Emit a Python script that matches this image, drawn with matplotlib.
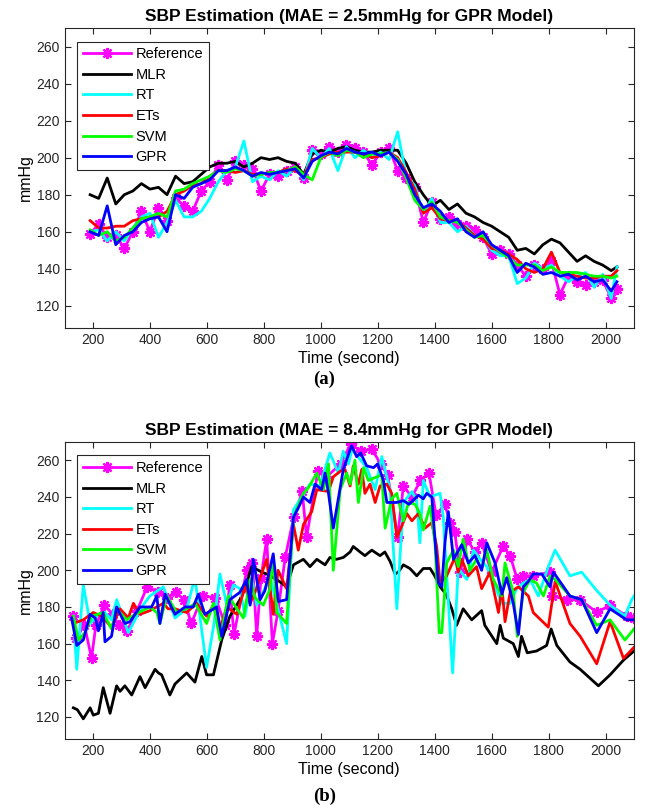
import matplotlib.pyplot as plt

plt.rcParams['font.family'] = ['Liberation Sans', 'DejaVu Sans']

## panel (a) - shared time grid
t_a = [190, 220, 250, 280, 310, 340, 370, 400, 430, 460, 490, 520, 550, 580, 610, 640,
       670, 700, 730, 760, 790, 820, 850, 880, 910, 940, 970, 1000, 1030, 1060, 1090,
       1120, 1150, 1180, 1210, 1240, 1270, 1300, 1330, 1360, 1390, 1420, 1450, 1480,
       1510, 1540, 1570, 1600, 1630, 1660, 1690, 1720, 1750, 1780, 1810, 1840, 1870,
       1900, 1930, 1960, 1990, 2020, 2040]
ref_a = [159, 164, 157, 158, 151, 160, 171, 160, 173, 166, 178, 174, 171, 182, 187, 196,
         188, 198, 196, 194, 182, 191, 190, 193, 195, 189, 204, 202, 206, 203, 207,
         205, 203, 196, 203, 205, 193, 189, 184, 165, 176, 167, 168, 164,
         163, 161, 157, 148, 150, 148, 142, 136, 142, 140, 144, 126, 136,
         133, 131, 133, 134, 124, 129]
mlr_a = [180, 178, 189, 175, 180, 182, 186, 183, 184, 180, 190, 186, 187, 191, 195, 197,
         197, 198, 195, 197, 200, 199, 200, 198, 197, 191, 202, 204, 203, 205, 206,
         204, 203, 203, 204, 204, 204, 197, 187, 180, 174, 177, 172, 175,
         170, 168, 165, 163, 160, 157, 150, 151, 148, 153, 156, 154, 149,
         144, 147, 144, 142, 139, 141]
rt_a = [160, 161, 155, 160, 155, 162, 168, 170, 157, 165, 177, 168, 168, 171, 178, 187,
        193, 195, 209, 187, 190, 188, 193, 190, 195, 188, 205, 200, 205, 193, 206,
        200, 204, 200, 203, 199, 214, 190, 185, 170, 178, 165, 165, 160,
        163, 158, 157, 150, 147, 147, 132, 135, 143, 140, 142, 136, 133,
        136, 138, 130, 137, 124, 141]
ets_a = [166, 162, 162, 163, 163, 166, 167, 168, 168, 171, 180, 182, 185, 186, 190, 193,
         193, 192, 193, 191, 191, 192, 192, 194, 193, 190, 199, 200, 202, 203, 203,
         203, 202, 200, 201, 203, 200, 192, 183, 170, 173, 167, 166, 166,
         162, 158, 156, 151, 150, 148, 145, 140, 138, 140, 149, 138, 137,
         136, 135, 135, 136, 136, 139]
svm_a = [161, 158, 160, 155, 157, 162, 167, 168, 170, 168, 182, 183, 186, 188, 190, 193,
         192, 194, 193, 190, 191, 192, 192, 193, 195, 191, 188, 200, 203, 201, 204,
         203, 200, 202, 202, 203, 199, 189, 177, 172, 176, 168, 166, 165,
         161, 157, 158, 153, 149, 146, 142, 142, 142, 139, 141, 138, 138,
         138, 137, 136, 136, 135, 136]
gpr_a = [160, 158, 174, 153, 158, 160, 165, 167, 168, 160, 180, 178, 184, 186, 188, 193,
         193, 195, 193, 190, 192, 191, 192, 193, 194, 189, 198, 201, 203, 202, 205,
         203, 202, 203, 201, 203, 198, 191, 180, 173, 175, 171, 165, 167,
         160, 157, 160, 153, 150, 147, 138, 143, 141, 137, 138, 136, 137,
         134, 136, 133, 134, 128, 133]

## panel (b) - each series has its own times
t_ref_b = [130, 140, 170, 195, 210, 240, 270, 290, 320, 355, 390, 430, 460, 490, 520, 545,
           585, 630, 665, 680, 695, 740, 760, 775, 790, 810, 830, 850, 875, 905, 935, 950,
           990, 1020, 1070, 1105, 1140, 1180, 1210, 1235, 1270, 1290, 1320, 1350, 1380,
           1405, 1435, 1455, 1470, 1490, 1515, 1540, 1565, 1600, 1640, 1665, 1690, 1710,
           1745, 1805, 1812, 1865, 1910, 1970, 2015, 2075, 2100]
v_ref_b = [175, 163, 170, 152, 170, 181, 176, 170, 167, 178, 191, 188, 185, 188, 184, 171,
           186, 185, 170, 192, 165, 200, 204, 164, 196, 217, 160, 178, 207, 229, 243, 218,
           254, 251, 258, 269, 265, 266, 258, 252, 218, 246, 240, 249, 253,
           230, 236, 226, 221, 199, 217, 210, 215, 199, 213, 208, 195, 197,
           197, 199, 186, 184, 184, 177, 181, 175, 174]

t_mlr_b = [131, 145, 166, 190, 201, 219, 236, 260, 283, 295, 312, 336, 365, 383, 418, 430,
           441, 470, 488, 529, 558, 582, 599, 623, 652, 681, 716, 734, 757, 793, 810, 845,
           880, 904, 939, 962, 986, 1015, 1032, 1055, 1079, 1103, 1114, 1138, 1155, 1179,
           1208, 1225, 1243, 1261, 1272, 1290, 1313, 1337, 1360, 1384, 1400, 1419, 1440,
           1460, 1477, 1500, 1530, 1565, 1576, 1618, 1630, 1641, 1676, 1694, 1705, 1725,
           1758, 1793, 1809, 1829, 1875, 1911, 1975, 2016, 2063, 2100]
v_mlr_b = [125, 124, 119, 125, 121, 122, 136, 122, 137, 134, 137, 132, 142, 136, 146, 144,
           143, 132, 138, 144, 139, 153, 143, 143, 162, 175, 184, 190, 202, 199, 198, 195,
           191, 203, 206, 202, 206, 203, 207, 206, 207, 210, 213, 210, 208, 211,
           208, 210, 205, 198, 199, 203, 201, 197, 201, 201, 197, 191, 187,
           179, 170, 179, 173, 178, 170, 160, 170, 163, 160, 153, 164, 155,
           156, 159, 168, 159, 150, 146, 137, 143, 151, 156]

t_rt_b = [131, 143, 166, 190, 219, 242, 265, 283, 324, 371, 400, 447, 488, 529, 558, 599,
          623, 646, 670, 693, 716, 734, 757, 775, 822, 880, 904, 962, 997, 1032, 1062,
          1079, 1097, 1110, 1161, 1191, 1214, 1243, 1267, 1290, 1320, 1337, 1348, 1360,
          1384, 1419, 1430, 1463, 1483, 1513, 1536, 1560, 1583, 1612, 1636, 1665, 1688,
          1711, 1735, 1764, 1799, 1823, 1875, 1916, 1969, 2016, 2068, 2092, 2100]
v_rt_b = [175, 146, 192, 171, 176, 177, 173, 184, 166, 180, 186, 191, 174, 179, 196, 147,
          169, 198, 181, 192, 190, 175, 196, 181, 196, 160, 233, 247, 246, 264, 253,
          265, 258, 266, 256, 244, 262, 244, 179, 237, 243, 238, 215, 249,
          240, 242, 229, 144, 201, 195, 211, 206, 202, 191, 182, 182, 190,
          193, 195, 186, 202, 211, 197, 199, 189, 181, 175, 184, 186]

t_ets_b = [131, 166, 201, 230, 265, 295, 324, 342, 365, 400, 447, 464, 488, 529, 564, 599,
           623, 646, 670, 705, 734, 752, 769, 810, 833, 850, 880, 904, 921, 939, 968, 986,
           1027, 1044, 1068, 1085, 1103, 1114, 1132, 1144, 1155, 1173, 1191, 1208, 1232,
           1249, 1267, 1284, 1302, 1320, 1343, 1366, 1390, 1407, 1419, 1442, 1471, 1483,
           1495, 1518, 1547, 1565, 1594, 1624, 1636, 1647, 1665, 1694, 1729, 1746, 1799,
           1823, 1875, 1911, 1969, 2016, 2063, 2100]
v_ets_b = [171, 173, 177, 175, 169, 179, 174, 182, 176, 178, 182, 179, 179, 177, 182, 175,
           181, 168, 180, 176, 191, 182, 188, 206, 176, 200, 190, 225, 211, 225, 232, 244,
           243, 251, 254, 255, 246, 257, 247, 255, 242, 247, 237, 246, 247,
           242, 218, 224, 231, 227, 231, 223, 226, 213, 193, 197, 207, 199,
           206, 197, 202, 190, 199, 177, 191, 172, 188, 191, 186, 177, 169,
           194, 171, 164, 149, 172, 152, 158]

t_svm_b = [131, 149, 172, 196, 236, 265, 283, 318, 348, 400, 424, 435, 459, 494, 541, 558,
           599, 623, 646, 675, 728, 752, 769, 798, 822, 833, 845, 880, 904, 939, 956, 986,
           1009, 1027, 1044, 1068, 1091, 1103, 1120, 1132, 1150, 1167, 1197, 1214, 1226,
           1249, 1267, 1290, 1308, 1331, 1348, 1360, 1384, 1401, 1416, 1425, 1442, 1466,
           1483, 1500, 1524, 1547, 1565, 1583, 1606, 1636, 1647, 1676, 1690, 1711, 1735,
           1758, 1782, 1805, 1823, 1875, 1916, 1969, 2016, 2068, 2100]
v_svm_b = [175, 162, 166, 175, 177, 168, 179, 173, 176, 180, 177, 171, 186, 177, 180, 182,
           171, 182, 162, 186, 174, 195, 185, 181, 190, 208, 177, 171, 229, 242, 245, 253,
           244, 258, 200, 244, 253, 247, 260, 237, 256, 249, 251, 252, 223,
           239, 242, 227, 237, 236, 231, 222, 235, 215, 166, 166, 204, 211,
           202, 217, 200, 206, 201, 211, 195, 186, 204, 188, 164, 188, 195,
           193, 186, 197, 195, 186, 184, 170, 173, 162, 168]

t_gpr_b = [125, 143, 166, 190, 208, 219, 236, 242, 265, 283, 312, 330, 365, 406, 424, 435,
           453, 488, 523, 552, 570, 593, 634, 652, 681, 716, 740, 752, 763, 787, 804, 833,
           851, 880, 904, 921, 939, 962, 980, 1003, 1015, 1027, 1044, 1079, 1108, 1126,
           1140, 1161, 1185, 1200, 1220, 1232, 1267, 1290, 1310, 1343, 1360, 1372, 1390,
           1401, 1413, 1425, 1436, 1448, 1466, 1495, 1518, 1541, 1565, 1583, 1612, 1636,
           1653, 1676, 1694, 1711, 1729, 1746, 1776, 1805, 1817, 1875, 1916, 1969, 2016,
           2074, 2100]
v_gpr_b = [174, 159, 162, 176, 174, 167, 177, 161, 164, 180, 171, 172, 180, 180, 186, 171,
           187, 176, 180, 180, 187, 176, 180, 164, 184, 188, 195, 181, 206, 184, 189, 209,
           183, 184, 229, 234, 240, 237, 247, 244, 253, 242, 223, 255, 268, 262,
           264, 257, 256, 258, 249, 237, 237, 238, 236, 241, 239, 242, 240,
           217, 193, 191, 215, 232, 206, 214, 204, 208, 200, 215, 204, 187,
           196, 182, 165, 191, 194, 198, 198, 191, 199, 186, 184, 166, 179,
           173, 173]

names = ["Reference", "MLR", "RT", "ETs", "SVM", "GPR"]
colors = ["#ff00ff", "black", "#00ffff", "#ff0000", "#00ff00", "#0000ff"]
xticks = [200, 400, 600, 800, 1000, 1200, 1400, 1600, 1800, 2000]
yticks = [120, 140, 160, 180, 200, 220, 240, 260]


def panel(ax, series, title):
    for i, (t, v) in enumerate(series):
        if i == 0:
            ax.plot(t, v, color=colors[i], lw=2, marker=(8, 2, 0), ms=8, mew=1.6,
                    label=names[i])
        else:
            ax.plot(t, v, color=colors[i], lw=2, label=names[i])
    ax.set_xlim(100, 2100)
    ax.set_ylim(108, 270)
    ax.set_xticks(xticks)
    ax.set_yticks(yticks)
    ax.tick_params(direction='in', top=True, right=True, length=4, labelsize=10,
                   colors='#262626', width=0.8)
    for s in ax.spines.values():
        s.set_color('#262626')
        s.set_linewidth(0.8)
    ax.set_title(title, fontsize=12.5, fontweight='bold', pad=5)
    ax.set_xlabel("Time (second)", fontsize=11.5, labelpad=3)
    ax.set_ylabel("mmHg", fontsize=11.5, labelpad=2)
    leg = ax.legend(loc='upper left', bbox_to_anchor=(0.022, 0.955), borderaxespad=0,
                    fontsize=10.5, handlelength=3.3, handletextpad=0.3, labelspacing=0.45,
                    borderpad=0.4, fancybox=False, framealpha=1, edgecolor='#262626')
    leg.get_frame().set_linewidth(0.8)


fig = plt.figure(figsize=(6.49, 8.08), dpi=100)
ax1 = fig.add_axes([0.0994, 0.594, 0.8775, 0.3713])
ax2 = fig.add_axes([0.0994, 0.0854, 0.8775, 0.3676])

panel(ax1, [(t_a, ref_a), (t_a, mlr_a), (t_a, rt_a), (t_a, ets_a), (t_a, svm_a), (t_a, gpr_a)],
      "SBP Estimation (MAE = 2.5mmHg for GPR Model)")
panel(ax2, [(t_ref_b, v_ref_b), (t_mlr_b, v_mlr_b), (t_rt_b, v_rt_b), (t_ets_b, v_ets_b),
            (t_svm_b, v_svm_b), (t_gpr_b, v_gpr_b)],
      "SBP Estimation (MAE = 8.4mmHg for GPR Model)")

fig.text(0.5, 0.530, "(a)", ha='center', va='center', fontsize=13.5, fontweight='bold',
         family='Liberation Serif')
fig.text(0.5, 0.015, "(b)", ha='center', va='center', fontsize=13.5, fontweight='bold',
         family='Liberation Serif')

fig.savefig("out.png", dpi=100)
